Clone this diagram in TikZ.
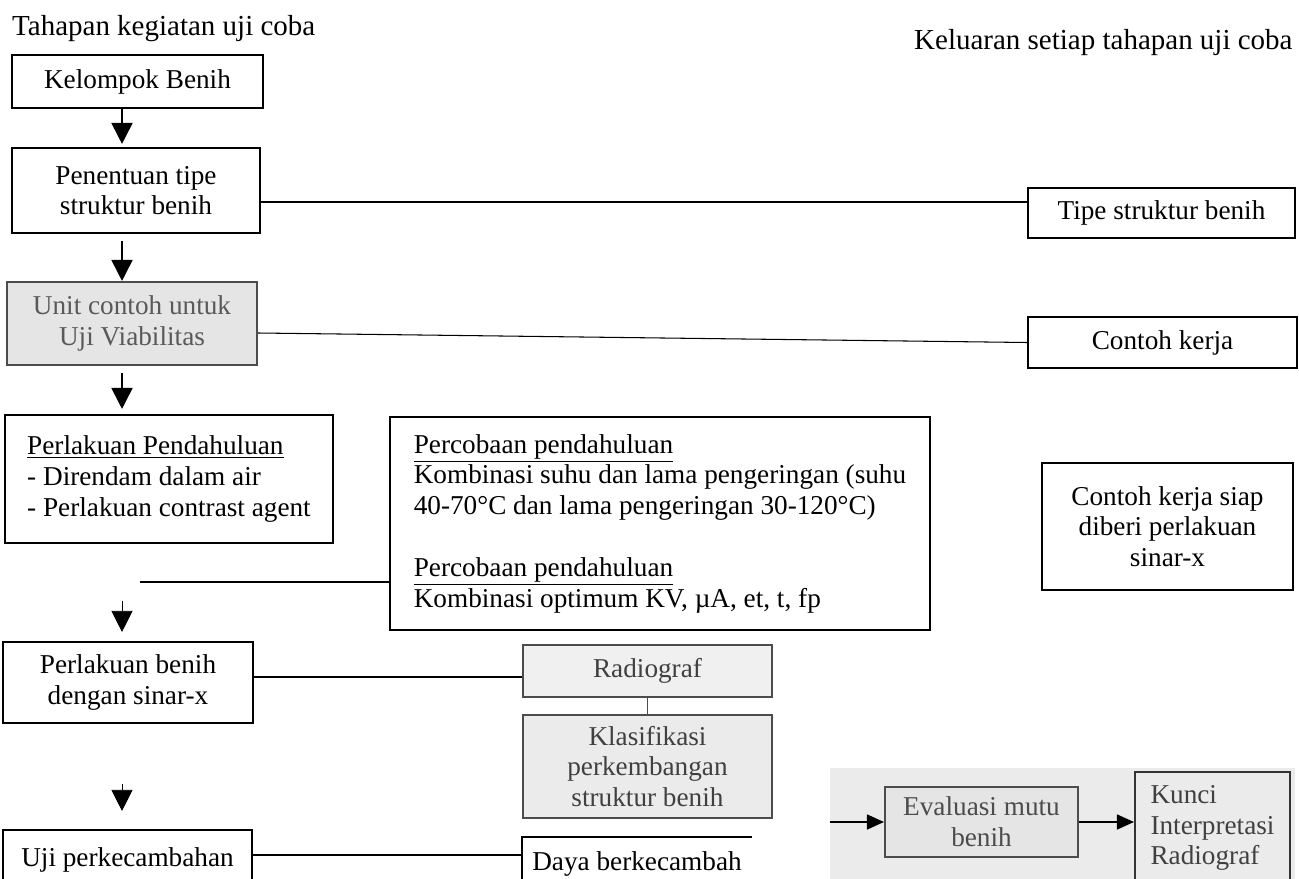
\documentclass[tikz,border=0pt]{standalone}
\usepackage{fontspec}
\setmainfont{Liberation Serif}
\usetikzlibrary{arrows.meta}
\tikzset{
  txt/.style={font=\fontsize{15.5}{17.5}\selectfont},
  title/.style={font=\fontsize{16.5}{19}\selectfont},
  box/.style={txt, draw, line width=1.2pt, inner sep=2pt, align=center},
  greybox/.style={box, draw=black!70, fill=black!10, text=black!65},
  flow/.style={line width=1pt, -{Triangle[length=0.42cm,width=0.42cm]}},
  side/.style={line width=0.9pt, -{Triangle[length=0.34cm,width=0.3cm]}},
  link/.style={line width=0.6pt}
}
\begin{document}
\begin{tikzpicture}[x=0.02cm, y=-0.02cm]
    % 0. Page frame (pixel grid, y going down)
    \useasboundingbox (0,0) rectangle (1299,879);
    \fill[black!8] (830,768) rectangle (1295,879);

    % 1. Column titles
    \node[title, anchor=west] (lefttitle) at (6,29) {Tahapan kegiatan uji coba};
    \node[title, anchor=west] (righttitle) at (908,43) {Keluaran setiap tahapan uji coba};

    % 2. Stages of the trial (left column)
    \node[box, minimum width=5.02cm, minimum height=1.06cm] (kelompok) at (137.5,81.5) {Kelompok Benih};
    \node[box, minimum width=4.96cm, minimum height=1.7cm] (penentuan) at (136,190.5) {Penentuan tipe\\struktur benih};
    \node[greybox, minimum width=5cm, minimum height=1.66cm] (unit) at (132,323.5) {Unit contoh untuk\\Uji Viabilitas};
    \node[box, align=left, minimum width=6.56cm, minimum height=2.56cm] (perlakuan) at (169,479)
        {\underline{Perlakuan Pendahuluan}\\- Direndam dalam air\\- Perlakuan contrast agent};
    \node[box, minimum width=5cm, minimum height=1.62cm] (sinarx) at (128,682.5) {Perlakuan benih\\dengan sinar-x};
    \node[box, minimum width=4.98cm, minimum height=1.2cm] (ujiperk) at (127.5,860) {Uji perkecambahan};

    % 3. Middle boxes
    \node[box, align=left, minimum width=10.8cm, minimum height=4.26cm] (percobaan) at (660,523.5)
        {\underline{Percobaan pendahuluan}\\
         Kombinasi suhu dan lama pengeringan (suhu\\
         40-70°C dan lama pengeringan 30-120°C)\\[0.62cm]
         \underline{Percobaan pendahuluan}\\
         Kombinasi optimum KV, µA, et, t, fp};
    \node[greybox, fill=black!6, text=black!75, minimum width=4.98cm, minimum height=1.04cm] (radiograf) at (647.5,671) {Radiograf};
    \node[greybox, fill=black!8, text=black!75, minimum width=4.98cm, minimum height=2.06cm] (klasifikasi) at (647.5,766.5) {Klasifikasi\\perkembangan\\struktur benih};
    \node[txt, minimum width=4.6cm, minimum height=1.06cm] (daya) at (637,863.5) {Daya berkecambah};
    \draw[line width=1.2pt] (daya.north east) -- (daya.north west) -- (daya.south west);

    % 4. Outputs (right column)
    \node[box, minimum width=5.34cm, minimum height=1cm] (tipe) at (1161.5,213) {Tipe struktur benih};
    \node[box, minimum width=5.38cm, minimum height=1.02cm] (contoh) at (1162.5,342.5) {Contoh kerja};
    \node[box, minimum width=5.02cm, minimum height=2.54cm] (siap) at (1167.5,526.5) {Contoh kerja siap\\diberi perlakuan\\sinar-x};
    \node[greybox, fill=black!10, text=black!70, minimum width=3.86cm, minimum height=1.4cm] (evaluasi) at (981.5,822) {Evaluasi mutu\\benih};
    \node[box, draw=black!80, text=black!75, align=left, minimum width=3.1cm, minimum height=2.24cm] (kunci) at (1212.5,828) {Kunci\\Interpretasi\\Radiograf};

    % 5. Flow arrows down the left column
    \coordinate (axis) at (122,0);
    \draw[flow, shorten >=0.06cm] (kelompok.south -| axis) -- (penentuan.north -| axis);
    \draw[flow, shorten <=0.14cm] (penentuan.south -| axis) -- (unit.north -| axis);
    \draw[flow, shorten <=0.14cm, shorten >=0.1cm] (unit.south -| axis) -- (perlakuan.north -| axis);
    \draw[flow, line width=0.4pt, shorten <=1.14cm, shorten >=0.18cm] (perlakuan.south -| axis) -- (sinarx.north -| axis);
    \draw[flow, line width=0.4pt, shorten <=1.2cm, shorten >=0.36cm] (sinarx.south -| axis) -- (ujiperk.north -| axis);

    % 6. Links from stages to their outputs
    \draw[link, line width=1pt] ([yshift=-0.23cm]penentuan.east) -- ([yshift=-0.23cm]penentuan.east -| tipe.west);
    \draw[link] ([yshift=-0.19cm]unit.east) -- (contoh.west);
    \coordinate (branch) at (140,582);
    \draw[link, line width=0.9pt] (branch) -- (branch -| percobaan.west);
    \draw[link, line width=0.9pt] ([yshift=0.11cm]sinarx.east) -- ([yshift=0.11cm]sinarx.east -| radiograf.west);
    \draw[link, line width=0.9pt] ([yshift=0.1cm]ujiperk.east) -- ([yshift=0.1cm]ujiperk.east -| daya.west);
    \draw[link, black!70] (radiograf.south) -- (klasifikasi.north);

    % 7. Evaluation chain
    \coordinate (evalin) at (830,822);
    \draw[side] (evalin) -- (evaluasi.west);
    \draw[side] (evaluasi.east) -- (evaluasi.east -| kunci.west);
\end{tikzpicture}
\end{document}
